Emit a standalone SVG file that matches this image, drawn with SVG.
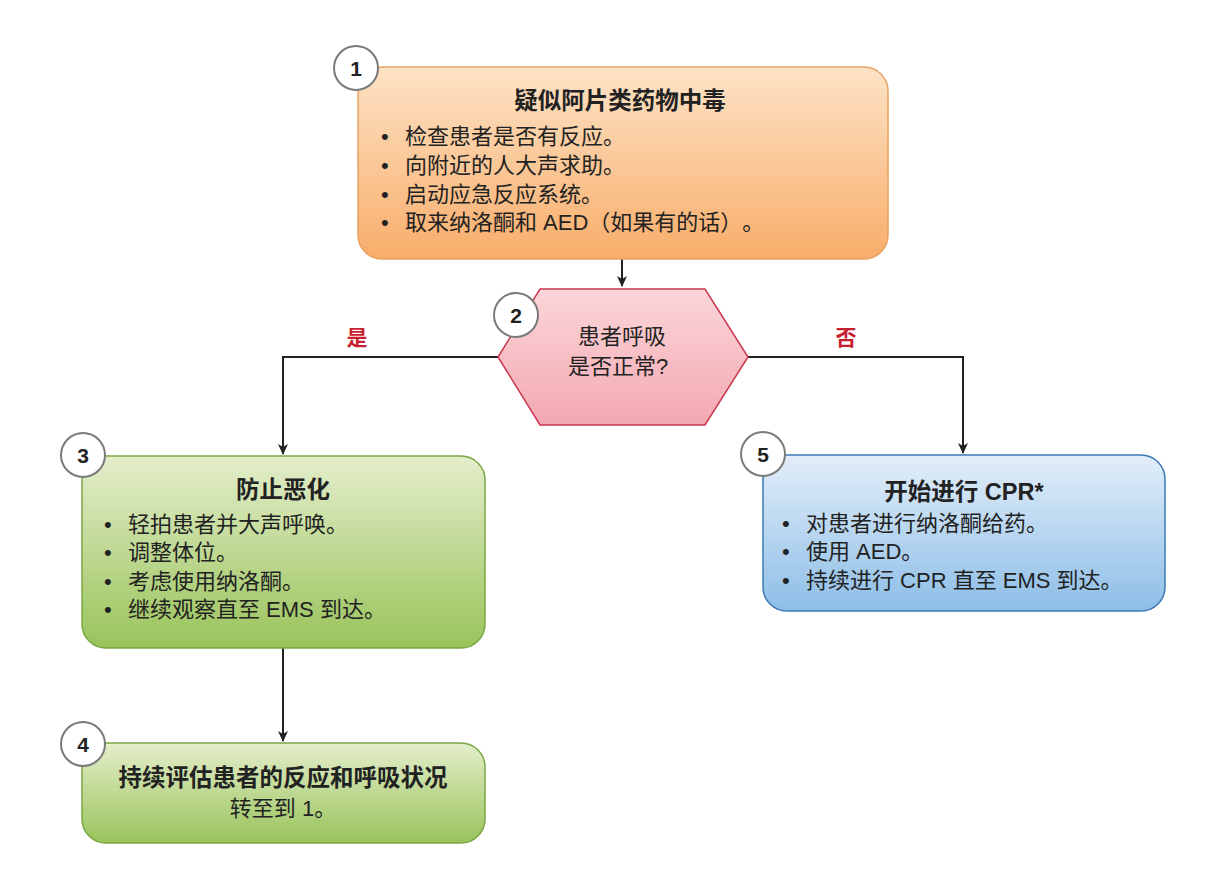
<svg xmlns="http://www.w3.org/2000/svg" width="1211" height="888" viewBox="0 0 1211 888">
<defs>
<linearGradient id="gOrange" x1="0" y1="0" x2="0" y2="1"><stop offset="0" stop-color="#fde3c6"/><stop offset="1" stop-color="#f8ad6a"/></linearGradient>
<linearGradient id="gGreen" x1="0" y1="0" x2="0" y2="1"><stop offset="0" stop-color="#e4eecb"/><stop offset="1" stop-color="#99c35a"/></linearGradient>
<linearGradient id="gBlue" x1="0" y1="0" x2="0" y2="1"><stop offset="0" stop-color="#e3eef9"/><stop offset="1" stop-color="#8dbee7"/></linearGradient>
<linearGradient id="gPink" x1="0" y1="0" x2="0" y2="1"><stop offset="0" stop-color="#fbd6da"/><stop offset="1" stop-color="#f3a8b0"/></linearGradient>
<marker id="arr" markerWidth="12" markerHeight="12" refX="10" refY="6" orient="auto" markerUnits="userSpaceOnUse"><path d="M0,1 L11,6 L0,11 L3,6 Z" fill="#222"/></marker>
<style>
text{font-family:"Liberation Sans","Noto Sans CJK SC",sans-serif;fill:#222;font-size:22px;text-spacing-trim:space-all}
.t{font-weight:bold;text-anchor:middle;font-size:23.5px}
.c{text-anchor:middle}
.num{font-weight:bold;text-anchor:middle;font-size:21px}
.circ{fill:#fff;stroke:#7a7a7a;stroke-width:2}
.lbl{font-weight:bold;fill:#c8202e;text-anchor:middle;font-size:21px}
.ln{fill:none;stroke:#222;stroke-width:2}
</style>
</defs>
<g id="connectors">
<path class="ln" d="M622,259 V286" marker-end="url(#arr)"/>
<path class="ln" d="M498,357 H283 V454" marker-end="url(#arr)"/>
<path class="ln" d="M748,357 H963 V453" marker-end="url(#arr)"/>
<path class="ln" d="M283,648 V741" marker-end="url(#arr)"/>
<text class="lbl" x="357" y="345">是</text>
<text class="lbl" x="846" y="345">否</text>
</g>
<g id="node1">
<rect x="358" y="67" width="530" height="192" rx="24" fill="url(#gOrange)" stroke="#e9a261" stroke-width="1.5"/>
<text class="t" x="620" y="109">疑似阿片类药物中毒</text>
<text x="381" y="144">•</text><text x="405" y="144">检查患者是否有反应。</text>
<text x="381" y="173">•</text><text x="405" y="173">向附近的人大声求助。</text>
<text x="381" y="202">•</text><text x="405" y="202">启动应急反应系统。</text>
<text x="381" y="230">•</text><text x="405" y="230">取来纳洛酮和 AED（如果有的话）。</text>
<circle class="circ" cx="356" cy="68" r="22"/>
<text class="num" x="356" y="75.5">1</text>
</g>
<g id="node2">
<polygon points="498,357 540,289 705,289 748,357 705,425 540,425" fill="url(#gPink)" stroke="#c9374e" stroke-width="1.5"/>
<text class="c" x="622" y="344">患者呼吸</text>
<text class="c" x="618" y="374">是否正常?</text>
<circle class="circ" cx="516" cy="315" r="22"/>
<text class="num" x="516" y="322.5">2</text>
</g>
<g id="node3">
<rect x="82" y="456" width="403" height="192" rx="24" fill="url(#gGreen)" stroke="#7ba743" stroke-width="1.5"/>
<text class="t" x="283" y="498">防止恶化</text>
<text x="104" y="532">•</text><text x="128" y="532">轻拍患者并大声呼唤。</text>
<text x="104" y="560">•</text><text x="128" y="560">调整体位。</text>
<text x="104" y="589">•</text><text x="128" y="589">考虑使用纳洛酮。</text>
<text x="104" y="617">•</text><text x="128" y="617">继续观察直至 EMS 到达。</text>
<circle class="circ" cx="83" cy="455" r="22"/>
<text class="num" x="83" y="462.5">3</text>
</g>
<g id="node4">
<rect x="82" y="743" width="403" height="100" rx="24" fill="url(#gGreen)" stroke="#7ba743" stroke-width="1.5"/>
<text class="t" x="283" y="786">持续评估患者的反应和呼吸状况</text>
<text class="c" x="283" y="816">转至到 1。</text>
<circle class="circ" cx="83" cy="744" r="22"/>
<text class="num" x="83" y="751.5">4</text>
</g>
<g id="node5">
<rect x="763" y="455" width="402" height="156" rx="24" fill="url(#gBlue)" stroke="#3c79b6" stroke-width="1.5"/>
<text class="t" x="964" y="500">开始进行 CPR*</text>
<text x="782" y="531">•</text><text x="806" y="531">对患者进行纳洛酮给药。</text>
<text x="782" y="559">•</text><text x="806" y="559">使用 AED。</text>
<text x="782" y="588">•</text><text x="806" y="588">持续进行 CPR 直至 EMS 到达。</text>
<circle class="circ" cx="763" cy="454" r="22"/>
<text class="num" x="763" y="461.5">5</text>
</g>
</svg>
